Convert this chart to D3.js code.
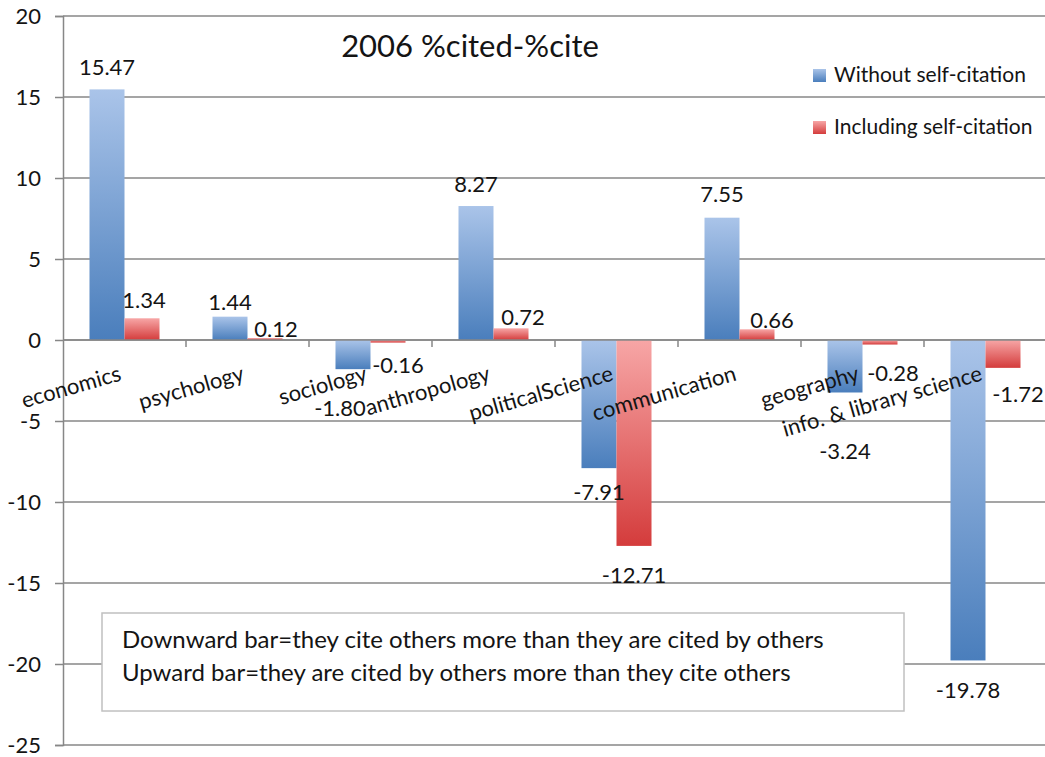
<!DOCTYPE html>
<html>
<head>
<meta charset="utf-8">
<script src="https://cdn.jsdelivr.net/npm/d3@7"></script>
<style>
  html, body { margin: 0; padding: 0; background: #fff; }
  svg { display: block; font-family: Lato, "Open Sans", sans-serif; }
</style>
</head>
<body>
<svg id="chart" width="1045" height="757"></svg>
<script>
// Citation balance by discipline, 2006 (%cited - %cite)
const categories = ["economics", "psychology", "sociology", "anthropology",
  "politicalScience", "communication", "geography", "info. & library science"];
const seriesNames = ["Without self-citation", "Including self-citation"];
const withoutSelf = [15.47, 1.44, -1.80, 8.27, -7.91, 7.55, -3.24, -19.78];
const includingSelf = [1.34, 0.12, -0.16, 0.72, -12.71, 0.66, -0.28, -1.72];
const yTicks = [-25, -20, -15, -10, -5, 0, 5, 10, 15, 20];
const titleText = "2006 %cited-%cite";
const noteLines = [
  "Downward bar=they cite others more than they are cited by others",
  "Upward bar=they are cited by others more than they cite others"
];

// Hand-placed nudges [dx, dy] for the value labels so they clear the axis text
const labelNudge = [
  [[0, 0], [0, 7], [-13, 17], [0, 0], [0, 2], [0, -2], [0, 37], [0, 8]],
  [[2, 4], [11, 13], [10, 0], [12, 11], [0, 7], [15, 13], [13, 7], [15, 4]]
];

// Plain hyphen for negative numbers
const locale = d3.formatLocale({ decimal: ".", thousands: ",", grouping: [3], currency: ["", ""], minus: "-" });
const fmtValue = locale.format(".2f");
const fmtTick = locale.format("d");

const svg = d3.select("#chart");
const plotLeft = 63, plotRight = 1047, plotTop = 16, plotBottom = 745;

const y = d3.scaleLinear().domain([-25, 20]).range([plotBottom, plotTop]);
const x0 = d3.scaleBand().domain(categories).range([plotLeft, plotRight]).padding(0);
const x1 = d3.scaleBand().domain(seriesNames).range([0, x0.bandwidth()])
  .paddingInner(0).paddingOuter(0.757);

const seriesValues = [withoutSelf, includingSelf];
const colors = [
  { id: "gradBlue", top: "#aac4e9", bottom: "#4a7ebc" },
  { id: "gradRed", top: "#f7a6a6", bottom: "#d43c3c" }
];

const defs = svg.append("defs");
colors.forEach(c => {
  const g = defs.append("linearGradient").attr("id", c.id)
    .attr("x1", 0).attr("y1", 0).attr("x2", 0).attr("y2", 1);
  g.append("stop").attr("offset", "0%").attr("stop-color", c.top);
  g.append("stop").attr("offset", "100%").attr("stop-color", c.bottom);
});

const gridColor = "#878787";
const textColor = "#141414";

// Horizontal gridlines
svg.append("g").selectAll("line").data(yTicks).join("line")
  .attr("x1", plotLeft).attr("x2", plotRight)
  .attr("y1", d => y(d)).attr("y2", d => y(d))
  .attr("stroke", gridColor).attr("stroke-width", 1.5);

// Left axis with outward ticks and labels
const yAxis = d3.axisLeft(y).tickValues(yTicks).tickSize(8).tickPadding(14)
  .tickFormat(fmtTick);
const yAxisG = svg.append("g").attr("transform", `translate(${plotLeft},0)`).call(yAxis);
yAxisG.select(".domain").attr("stroke", gridColor).attr("stroke-width", 1.5);
yAxisG.selectAll(".tick line").attr("stroke", gridColor).attr("stroke-width", 1.5);
yAxisG.selectAll(".tick text").attr("fill", textColor)
  .style("font-size", "22px").style("font-family", "Lato, sans-serif");

// Bars
const y0 = y(0);
seriesNames.forEach((s, si) => {
  const rows = categories.map((c, i) => ({ c, v: seriesValues[si][i], i }));
  svg.append("g").selectAll("rect").data(rows).join("rect")
    .attr("x", d => x0(d.c) + x1(s))
    .attr("width", x1.bandwidth())
    .attr("y", d => Math.min(y(d.v), y0))
    .attr("height", d => Math.abs(y(d.v) - y0))
    .attr("fill", `url(#${colors[si].id})`);
});

// Zero line and category ticks
svg.append("line").attr("x1", plotLeft).attr("x2", plotRight)
  .attr("y1", y0).attr("y2", y0)
  .attr("stroke", gridColor).attr("stroke-width", 1.5);
const tickXs = categories.map(c => x0(c)).concat([x0(categories[categories.length - 1]) + x0.bandwidth()]);
svg.append("g").selectAll("line").data(tickXs.slice(1)).join("line")
  .attr("x1", d => d).attr("x2", d => d)
  .attr("y1", y0).attr("y2", y0 + 7)
  .attr("stroke", gridColor).attr("stroke-width", 1.5);

// Category labels, slanted, ending at the category centre
svg.append("g").selectAll("text").data(categories).join("text")
  .attr("transform", d => `translate(${x0(d) + x0.bandwidth() / 2 - 2},${y0 + 40}) rotate(-16)`)
  .attr("text-anchor", "end")
  .attr("fill", textColor)
  .style("font-size", "22px")
  .text(d => d);

// Value labels
seriesNames.forEach((s, si) => {
  const rows = categories.map((c, i) => ({ c, v: seriesValues[si][i], i }));
  svg.append("g").selectAll("text").data(rows).join("text")
    .attr("x", d => x0(d.c) + x1(s) + x1.bandwidth() / 2 + labelNudge[si][d.i][0])
    .attr("y", d => (d.v >= 0 ? y(d.v) - 22 : y(d.v) + 22) + labelNudge[si][d.i][1])
    .attr("dy", "0.36em")
    .attr("text-anchor", "middle")
    .attr("fill", textColor)
    .style("font-size", "22px")
    .text(d => fmtValue(d.v));
});

// Title
svg.append("text").attr("x", 470).attr("y", 57)
  .attr("text-anchor", "middle").attr("fill", textColor)
  .style("font-size", "31px").text(titleText);

// Legend
const legend = svg.append("g");
seriesNames.forEach((s, si) => {
  const g = legend.append("g").attr("transform", `translate(813,${69 + si * 52})`);
  g.append("rect").attr("width", 13).attr("height", 13)
    .attr("fill", `url(#${colors[si].id})`);
  g.append("text").attr("x", 21).attr("y", 13)
    .attr("fill", textColor).style("font-size", "21px").text(s);
});

// Explanatory note
const note = svg.append("g");
note.append("rect").attr("x", 102).attr("y", 613).attr("width", 802).attr("height", 98)
  .attr("fill", "#fff").attr("stroke", "#c0c0c0").attr("stroke-width", 1.5);
note.selectAll("text").data(noteLines).join("text")
  .attr("x", 122).attr("y", (d, i) => 648 + i * 33)
  .attr("fill", textColor).style("font-size", "24px").text(d => d);
</script>
</body>
</html>
